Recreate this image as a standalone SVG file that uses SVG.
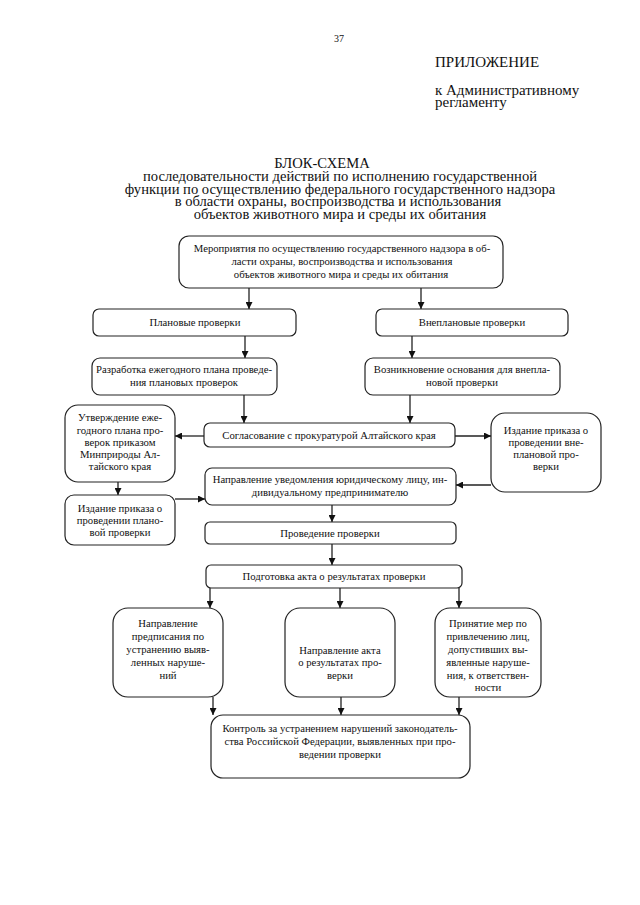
<svg xmlns="http://www.w3.org/2000/svg" width="640" height="905" viewBox="0 0 640 905">
<defs>
<marker id="ah" viewBox="0 0 10 10" refX="10" refY="5" markerWidth="7" markerHeight="7" markerUnits="userSpaceOnUse" orient="auto">
<path d="M0,0 L10,5 L0,10 z" fill="#111"/>
</marker>
<style>
.b{fill:#fff;stroke:#222;stroke-width:1.2}
.t{font-family:"Liberation Serif","Times New Roman",serif;font-size:10.7px;fill:#111;text-anchor:middle}
.h{font-family:"Liberation Serif","Times New Roman",serif;font-size:14.6px;fill:#111}
.c{fill:none;stroke:#222;stroke-width:1.3;marker-end:url(#ah)}
</style>
</defs>
<rect width="640" height="905" fill="#fff"/>
<g id="header">
<text class="h" x="334" y="42" style="font-size:10px">37</text>
<text class="h" x="435" y="67" style="font-size:15px">ПРИЛОЖЕНИЕ</text>
<text class="h" x="435" y="95" style="font-size:15px">к Административному</text>
<text class="h" x="435" y="107" style="font-size:15px">регламенту</text>
</g>
<g id="title" class="h">
<text x="322" y="168" text-anchor="middle">БЛОК-СХЕМА</text>
<text x="340" y="181" text-anchor="middle">последовательности действий по исполнению государственной</text>
<text x="340" y="193.5" text-anchor="middle">функции по осуществлению федерального государственного надзора</text>
<text x="338" y="206" text-anchor="middle">в области охраны, воспроизводства и использования</text>
<text x="340" y="218.5" text-anchor="middle">объектов животного мира и среды их обитания</text>
</g>
<g id="connectors">
<line class="c" x1="249" y1="288" x2="249" y2="309"/>
<line class="c" x1="421" y1="288" x2="421" y2="309"/>
<line class="c" x1="245" y1="336" x2="245" y2="358"/>
<line class="c" x1="412" y1="336" x2="412" y2="358"/>
<line class="c" x1="244" y1="395" x2="244" y2="423"/>
<line class="c" x1="410" y1="395" x2="410" y2="423"/>
<line class="c" x1="204" y1="436" x2="175" y2="436"/>
<line class="c" x1="455" y1="436" x2="491" y2="436"/>
<line class="c" x1="118" y1="482" x2="118" y2="495"/>
<line class="c" x1="175" y1="499" x2="205" y2="499"/>
<line class="c" x1="491" y1="485" x2="456" y2="485"/>
<line class="c" x1="332" y1="505" x2="332" y2="522"/>
<line class="c" x1="332" y1="544" x2="332" y2="565"/>
<line class="c" x1="210" y1="588" x2="210" y2="608"/>
<line class="c" x1="340" y1="588" x2="340" y2="608"/>
<line class="c" x1="459" y1="588" x2="459" y2="608"/>
<line class="c" x1="213" y1="697" x2="213" y2="715"/>
<line class="c" x1="341" y1="697" x2="341" y2="715"/>
<line class="c" x1="459" y1="697" x2="459" y2="715"/>
</g>
<g id="n1"><rect class="b" x="179" y="236" width="324" height="52" rx="10"/>
<text class="t" x="342" y="252">Мероприятия по осуществлению государственного надзора в об-</text>
<text class="t" x="342" y="265">ласти охраны, воспроизводства и использования</text>
<text class="t" x="341" y="278">объектов животного мира и среды их обитания</text></g>
<g id="n2"><rect class="b" x="93" y="309" width="203" height="27" rx="6"/>
<text class="t" x="195" y="326">Плановые проверки</text></g>
<g id="n3"><rect class="b" x="376" y="309" width="192" height="27" rx="6"/>
<text class="t" x="472" y="326">Внеплановые проверки</text></g>
<g id="n4"><rect class="b" x="92" y="358" width="185" height="37" rx="8"/>
<text class="t" x="184" y="373">Разработка ежегодного плана проведе-</text>
<text class="t" x="184" y="386">ния плановых проверок</text></g>
<g id="n5"><rect class="b" x="365" y="358" width="195" height="37" rx="8"/>
<text class="t" x="462" y="373">Возникновение основания для внепла-</text>
<text class="t" x="462" y="386">новой проверки</text></g>
<g id="n6"><rect class="b" x="204" y="423" width="251" height="24" rx="6"/>
<text class="t" x="329" y="439">Согласование с прокуратурой Алтайского края</text></g>
<g id="n7"><rect class="b" x="65" y="405" width="110" height="77" rx="13"/>
<text class="t" x="120" y="421">Утверждение еже-</text>
<text class="t" x="120" y="434">годного плана про-</text>
<text class="t" x="120" y="446">верок приказом</text>
<text class="t" x="120" y="458">Минприроды Ал-</text>
<text class="t" x="120" y="470">тайского края</text></g>
<g id="n8"><rect class="b" x="65" y="495" width="110" height="50" rx="9"/>
<text class="t" x="120" y="512">Издание приказа о</text>
<text class="t" x="120" y="524">проведении плано-</text>
<text class="t" x="120" y="536">вой проверки</text></g>
<g id="n9"><rect class="b" x="491" y="413" width="110" height="79" rx="14"/>
<text class="t" x="546" y="434">Издание приказа о</text>
<text class="t" x="546" y="446">проведении вне-</text>
<text class="t" x="546" y="458">плановой про-</text>
<text class="t" x="546" y="470">верки</text></g>
<g id="n10"><rect class="b" x="205" y="468" width="251" height="37" rx="7"/>
<text class="t" x="330" y="483">Направление уведомления юридическому лицу, ин-</text>
<text class="t" x="330" y="496">дивидуальному предпринимателю</text></g>
<g id="n11"><rect class="b" x="205" y="522" width="251" height="22" rx="5"/>
<text class="t" x="330" y="537">Проведение проверки</text></g>
<g id="n12"><rect class="b" x="206" y="565" width="256" height="23" rx="5"/>
<text class="t" x="334" y="580">Подготовка акта о результатах проверки</text></g>
<g id="n13"><rect class="b" x="113" y="608" width="110" height="89" rx="15"/>
<text class="t" x="168" y="627">Направление</text>
<text class="t" x="168" y="640">предписания по</text>
<text class="t" x="168" y="653">устранению выяв-</text>
<text class="t" x="168" y="666">ленных наруше-</text>
<text class="t" x="168" y="679">ний</text></g>
<g id="n14"><rect class="b" x="285" y="608" width="110" height="89" rx="15"/>
<text class="t" x="340" y="654">Направление акта</text>
<text class="t" x="340" y="666">о результатах про-</text>
<text class="t" x="340" y="679">верки</text></g>
<g id="n15"><rect class="b" x="435" y="608" width="106" height="89" rx="15"/>
<text class="t" x="488" y="627">Принятие мер по</text>
<text class="t" x="488" y="640">привлечению лиц,</text>
<text class="t" x="488" y="653">допустивших вы-</text>
<text class="t" x="488" y="666">явленные наруше-</text>
<text class="t" x="488" y="679">ния, к ответствен-</text>
<text class="t" x="488" y="691">ности</text></g>
<g id="n16"><rect class="b" x="211" y="715" width="259" height="63" rx="12"/>
<text class="t" x="340" y="732">Контроль за устранением нарушений законодатель-</text>
<text class="t" x="340" y="745">ства Российской Федерации, выявленных при про-</text>
<text class="t" x="340" y="758">ведении проверки</text></g>
</svg>
